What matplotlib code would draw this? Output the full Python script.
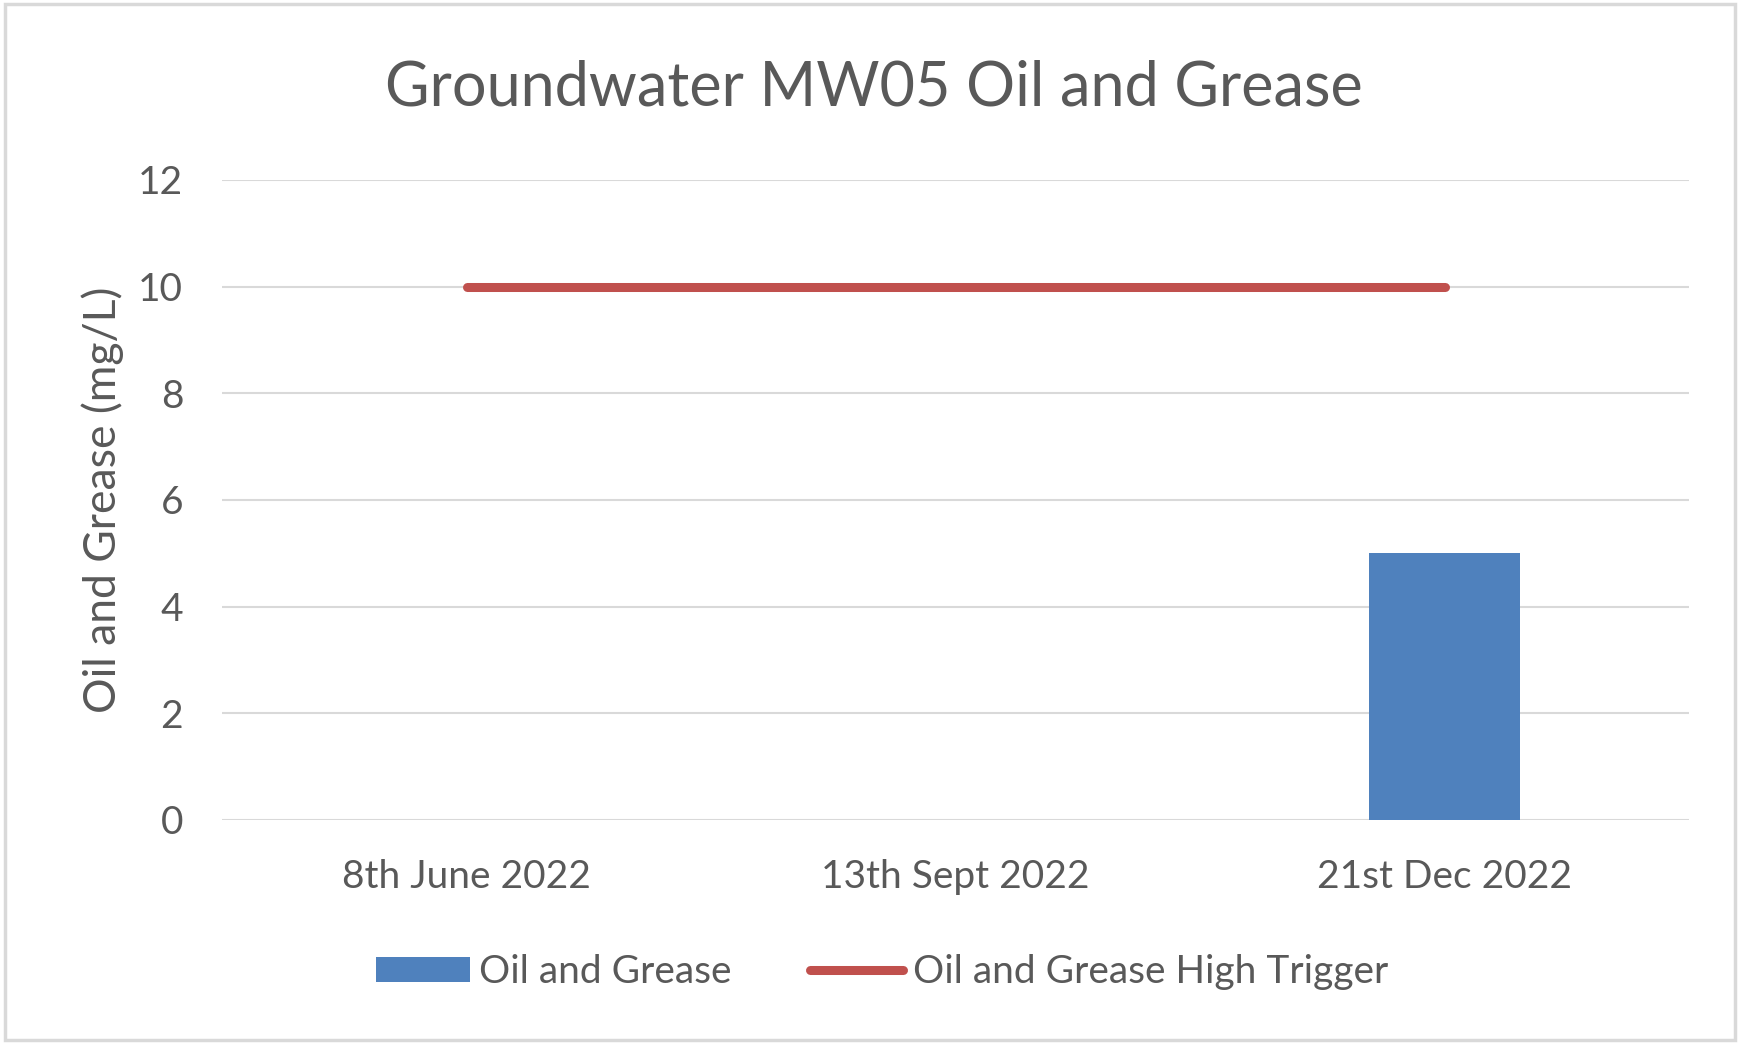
import numpy as np
import matplotlib
matplotlib.use("Agg")
from matplotlib import pyplot as plt
from matplotlib.patches import Rectangle

# data
dates = ['8th June 2022', '13th Sept 2022', '21st Dec 2022']
oil_grease = [np.nan, np.nan, 5]
high_trigger = [10, 10, 10]

plt.rcParams['font.family'] = ['Lato', 'DejaVu Sans']
text_col = '#595959'

fig = plt.figure(figsize=(17.4, 10.44), dpi=100)
ax = fig.add_axes([0.1276, 0.2146, 0.8431, 0.6130])

x = np.arange(len(dates))
bars = ax.bar(x, oil_grease, width=0.31, color='#4F81BD', zorder=2, label='Oil and Grease')
line, = ax.plot(x, high_trigger, color='#C0504D', lw=6.5, solid_capstyle='round', zorder=3,
                label='Oil and Grease High Trigger')

ax.set_xlim(-0.5, 2.5)
ax.set_ylim(0, 12)
ax.set_yticks(range(0, 13, 2))
ax.set_xticks(x)
ax.set_xticklabels(dates)
ax.grid(axis='y', color='#D9D9D9', lw=1.5, zorder=0)
for s in ax.spines.values():
    s.set_visible(False)
ax.tick_params(length=0, labelsize=28, labelcolor=text_col)
ax.tick_params(axis='y', pad=28)
ax.tick_params(axis='x', pad=28)

ax.set_ylabel('Oil and Grease (mg/L)', fontsize=32, color=text_col, labelpad=10)
fig.text(0.502, 0.916, 'Groundwater MW05 Oil and Grease', ha='center', va='center',
         fontsize=44, color=text_col)

leg = fig.legend([bars, line], ['Oil and Grease', 'Oil and Grease High Trigger'],
                 loc='center', bbox_to_anchor=(0.507, 0.069), ncol=2, frameon=False,
                 fontsize=28, handlelength=2.4, handleheight=0.6, handletextpad=0.25,
                 columnspacing=2.0, labelcolor=text_col)

fig.patches.append(Rectangle((0.003, 0.004), 0.994, 0.992, transform=fig.transFigure,
                             fill=False, edgecolor='#D9D9D9', lw=2.5))

plt.savefig('out.png', dpi=100)
